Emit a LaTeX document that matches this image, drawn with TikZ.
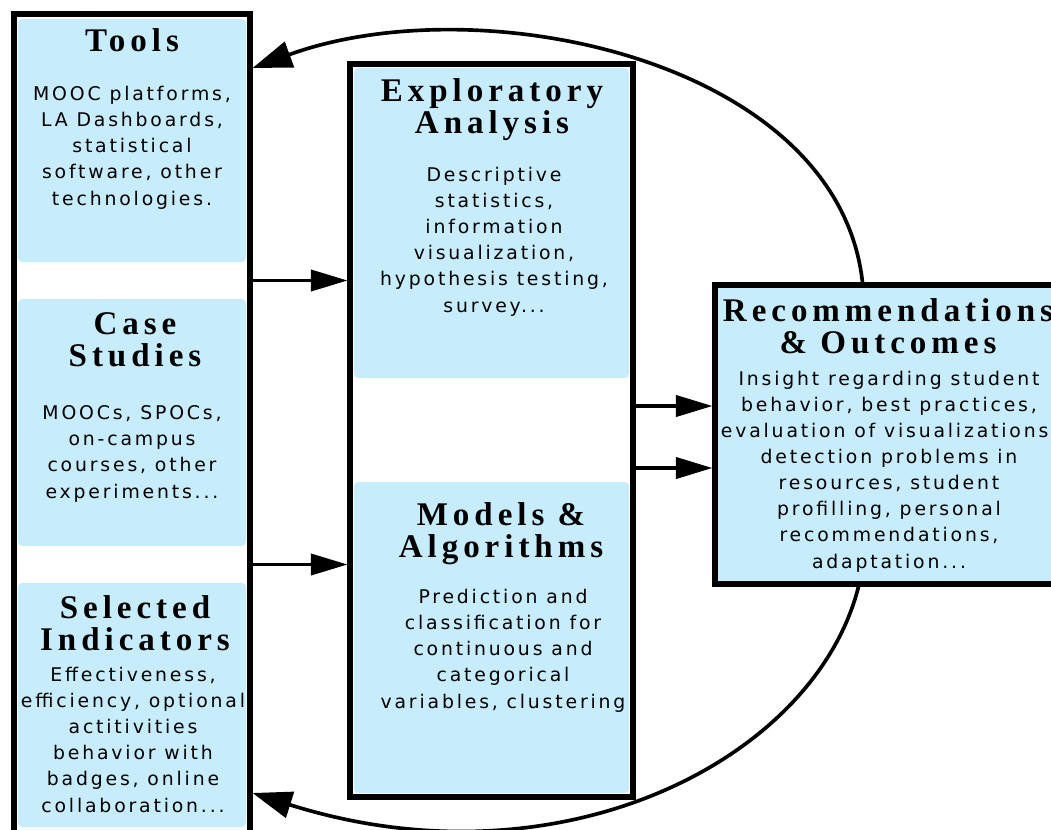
\documentclass[tikz,border=0pt]{standalone}
\usepackage{fontspec}
\setmainfont{Liberation Serif}
\newfontfamily\headfont[LetterSpace=15]{Liberation Serif}
\newfontfamily\bodyfont[LetterSpace=15]{DejaVu Sans}
\usetikzlibrary{arrows.meta,calc,fit}
\definecolor{panelblue}{RGB}{199,237,252}

\begin{document}
\begin{tikzpicture}[x=0.025cm,y=-0.025cm,
    colframe/.style={draw,line width=3.6pt,inner sep=0pt},
    panel/.style={fill=panelblue,rounded corners=3pt,inner sep=0pt},
    heading/.style={font=\headfont\bfseries\fontsize{23.5}{22.5}\selectfont,align=center,inner sep=0pt,anchor=base},
    body/.style={font=\bodyfont\fontsize{13.4}{18.5}\selectfont,align=center,inner sep=0pt,anchor=base},
    flow/.style={line width=2.6pt,-{Triangle[length=26pt,width=15pt]}},
    feedback/.style={line width=2.6pt,-{Triangle[length=28pt,width=19pt]}}]
    \useasboundingbox (0,0) rectangle (1051,829);
    \clip (0,0) rectangle (1051,829);

    % blue panels
    \node[panel,fit={(18,19) (246,262)}] (tools) {};
    \node[panel,fit={(18,299) (246,546)}] (cases) {};
    \node[panel,fit={(18,583) (246,827)}] (indicators) {};
    \node[panel,fit={(354,68) (629,378)}] (explore) {};
    \node[panel,fit={(354,482) (629,793)}] (models) {};

    % black frames
    \node[colframe,fit={(14,14) (250,860)}] (leftcol) {};
    \node[colframe,fit={(350,64) (633,797)}] (midcol) {};
    \node[colframe,fill=panelblue,fit={(715,285) (1060,584)}] (outcome) {};

    % texts (anchored at the baseline of their last line)
    \node[heading] (toolstitle) at (132,51) {Tools};
    \node[body] (toolstext) at (132,205) {MOOC platforms,\\LA Dashboards,\\statistical\\software, other\\technologies.};
    \node[heading] (casestitle) at (135,366) {Case\\Studies};
    \node[body] (casestext) at (132,498) {MOOCs, SPOCs,\\on-campus\\courses, other\\experiments...};
    \node[heading] (indtitle) at (135,650) {Selected\\Indicators};
    \node[body] (indtext) at (133,812) {Effectiveness,\\efficiency, optional\\actitivities\\behavior with\\badges, online\\collaboration...};
    \node[heading] (exptitle) at (492,133) {Exploratory\\Analysis};
    \node[body] (exptext) at (494,312) {Descriptive\\statistics,\\information\\visualization,\\hypothesis testing,\\survey...};
    \node[heading] (modtitle) at (501,557) {Models \&\\Algorithms};
    \node[body] (modtext) at (503,708) {Prediction and\\classification for\\continuous and\\categorical\\variables, clustering};
    \node[heading] (outtitle) at (888,353) {Recommendations\\\& Outcomes};
    \node[body] (outtext) at (889,568) {Insight regarding student\\behavior, best practices,\\evaluation of visualizations,\\detection problems in\\resources, student\\profilling, personal\\recommendations,\\adaptation...};

    % connectors
    \coordinate (gap1) at ($(tools.south)!.5!(cases.north)$);
    \coordinate (gap2) at ($(cases.south)!.5!(indicators.north)$);
    \draw[flow] (leftcol.east |- gap1) -- (midcol.west |- gap1);
    \draw[flow] (leftcol.east |- gap2) -- (midcol.west |- gap2);
    \draw[flow] (midcol.east |- 0,406) -- (outcome.west |- 0,406);
    \draw[flow] (midcol.east |- 0,468) -- (outcome.west |- 0,468);
    \draw[feedback] ($(outcome.north)+(-25,0)$) .. controls (838,60) and (480,-15) .. (leftcol.east |- 0,68);
    \draw[feedback] ($(outcome.south)+(-29,0)$) .. controls (815,760) and (560,890) .. (leftcol.east |- 0,793);
\end{tikzpicture}
\end{document}
